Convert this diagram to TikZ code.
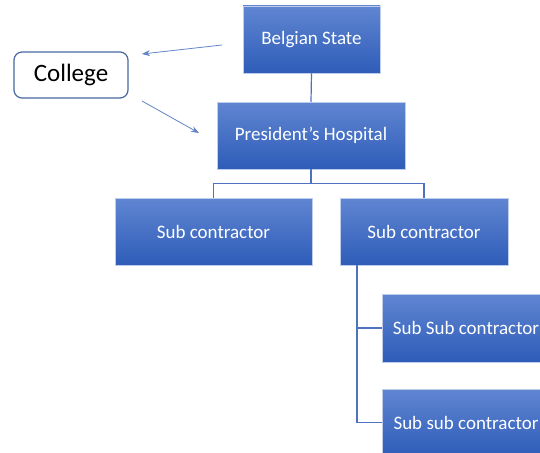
\documentclass[tikz,border=0pt]{standalone}
\usepackage{fontspec}
\setmainfont{Carlito}
\usetikzlibrary{arrows.meta}
\definecolor{boxtop}{RGB}{96,134,210}
\definecolor{boxbot}{RGB}{46,92,184}
\definecolor{boxedge}{RGB}{190,205,235}
\definecolor{linkcol}{RGB}{78,114,192}
\definecolor{arrowcol}{RGB}{98,132,200}
\definecolor{collegeedge}{RGB}{72,104,160}
\begin{document}
\begin{tikzpicture}[x=1pt,y=-1pt,
  orgbox/.style={rectangle, top color=boxtop, bottom color=boxbot, draw=boxedge,
    line width=0.5pt, minimum height=67pt, inner sep=0pt, text=white,
    font=\fontsize{19}{22}\selectfont},
  link/.style={draw=linkcol, line width=1.2pt},
  pointer/.style={draw=arrowcol, line width=0.8pt, -{Stealth[length=8pt,width=6pt]}},
  collegebox/.style={rectangle, rounded corners=8pt, draw=collegeedge, line width=1.2pt,
    fill=white, minimum width=114pt, minimum height=46pt, inner sep=0pt,
    font=\fontsize{25}{29}\selectfont}]
  \path[use as bounding box] (0,0) rectangle (540,452);
  \clip (0,0) rectangle (540,452);
  \fill[white] (0,0) rectangle (540,452);

  % boxes of the hierarchy
  \node[orgbox, minimum width=137pt] (bs) at (311.5,39.5) {Belgian State};
  \node[orgbox, minimum width=188pt] (ph) at (311,135.5) {President’s Hospital};
  \node[orgbox, minimum width=197pt] (sc1) at (213.5,231.5) {Sub contractor};
  \node[orgbox, minimum width=168pt] (sc2) at (424,231.5) {Sub contractor};
  \node[orgbox, minimum width=168pt, minimum height=68pt] (ss1) at (466,328) {Sub Sub contractor};
  \node[orgbox, minimum width=168pt] (ss2) at (466,422.5) {Sub sub contractor};

  % the college, off to the side
  \node[collegebox] (col) at (71,75) {\raisebox{-1.5pt}{College}};

  % tree connectors
  \draw[link] (bs.south) -- (ph.north);
  \draw[link] (ph.south) -- ++(0,14) -| (sc1.north);
  \draw[link] (ph.south) -- ++(0,14) -| (sc2.north);
  \draw[link] ([xshift=-67pt]sc2.south) |- (ss1.west);
  \draw[link] ([xshift=-67pt]sc2.south) |- (ss2.west);

  % arrows around the college
  \coordinate (a1s) at (222,45);
  \coordinate (a1e) at (142,54);
  \coordinate (a2s) at (142,101);
  \coordinate (a2e) at (199,133);
  \draw[pointer] (a1s) -- (a1e);
  \draw[pointer] (a2s) -- (a2e);
\end{tikzpicture}
\end{document}
